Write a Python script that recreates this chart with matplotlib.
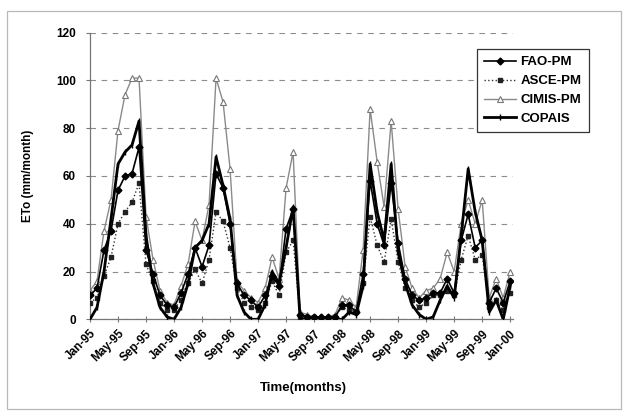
import numpy as np
import matplotlib
matplotlib.use("Agg")
import matplotlib.pyplot as plt
from matplotlib.patches import Rectangle

# ---- data (monthly ETo, mm/month, Jan-95 .. Jan-00) ----
fao_pm = [10, 13, 29, 37, 54, 60, 61, 72, 29, 19, 10, 6,
          5, 11, 19, 30, 22, 31, 61, 55, 40, 15, 10, 8,
          5, 10, 18, 14, 38, 46, 2, 1, 1, 1, 1, 1,
          6, 6, 3, 19, 58, 40, 31, 57, 32, 17, 10, 8,
          9, 11, 11, 17, 11, 33, 44, 30, 33, 7, 13, 7,
          16]
asce_pm = [7, 9, 18, 26, 40, 45, 49, 57, 23, 16, 7, 4,
           4, 8, 15, 21, 15, 25, 45, 41, 30, 13, 7, 5,
           4, 7, 16, 10, 28, 33, 1, 1, 1, 0, 0, 1,
           5, 4, 3, 15, 43, 31, 24, 42, 24, 13, 8, 5,
           7, 10, 10, 12, 10, 25, 35, 25, 27, 5, 8, 4,
           11]
cimis_pm = [12, 16, 37, 50, 79, 94, 101, 101, 43, 25, 12, 7,
            6, 14, 23, 41, 33, 48, 101, 91, 63, 16, 12, 9,
            7, 13, 26, 17, 55, 70, 3, 2, 1, 1, 1, 2,
            9, 8, 5, 29, 88, 66, 47, 83, 46, 22, 13, 9,
            12, 13, 17, 28, 20, 40, 50, 40, 50, 9, 17, 9,
            20]
copais = [0, 5, 20, 42, 65, 70, 73, 83, 35, 15, 5, 1,
          0, 5, 15, 30, 33, 40, 68, 56, 42, 10, 3, 0,
          0, 6, 20, 15, 30, 47, 0, 0, 0, 0, 0, 0,
          0, 3, 2, 14, 65, 45, 33, 65, 28, 15, 6, 2,
          0, 1, 8, 14, 9, 35, 63, 45, 33, 3, 8, 0,
          14]
tick_labels = ["Jan-95", "May-95", "Sep-95", "Jan-96", "May-96", "Sep-96",
               "Jan-97", "May-97", "Sep-97", "Jan-98", "May-98", "Sep-98",
               "Jan-99", "May-99", "Sep-99", "Jan-00"]
series_names = ["FAO-PM", "ASCE-PM", "CIMIS-PM", "COPAIS"]

plt.rcParams['font.family'] = ['Liberation Sans', 'DejaVu Sans']

W, H = 629, 411
fig = plt.figure(figsize=(W / 100, H / 100), dpi=100)
fig.patch.set_facecolor('white')

# outer chart border
fig.patches.append(Rectangle((7 / W, 2 / H), 614 / W, 398 / H,
                             transform=fig.transFigure, fill=False,
                             edgecolor='#b8b8b8', lw=0.9))

ax = fig.add_axes([90 / W, (H - 319.3) / H, (513 - 90) / W, (319.3 - 32.7) / H])

x = np.arange(len(fao_pm))

ax.plot(x, fao_pm, color='black', lw=1.2, marker='D', ms=3.5,
        mfc='black', mec='black', label=series_names[0], zorder=4)
ax.plot(x, asce_pm, color='#333333', lw=1.0, ls=':', marker='s', ms=3.4,
        mfc='#222222', mec='#222222', label=series_names[1], zorder=3)
ax.plot(x, cimis_pm, color='#8a8a8a', lw=1.0, marker='^', ms=4.3,
        mfc='white', mec='#777777', mew=0.8, label=series_names[2], zorder=2)
ax.plot(x, copais, color='black', lw=2.0, marker='|', ms=5,
        mec='black', label=series_names[3], zorder=5)

ax.set_xlim(0, 60.4)
ax.set_ylim(0, 120)
ax.set_yticks(np.arange(0, 121, 20))
ax.set_xticks(np.arange(0, 61, 4))
ax.set_xticklabels(tick_labels, rotation=45, ha='right', va='top',
                   rotation_mode='anchor', fontsize=8.5, fontweight='bold')
for lbl in ax.get_yticklabels():
    lbl.set_fontweight('bold')
    lbl.set_fontsize(8.5)

ax.grid(axis='y', color='#8c8c8c', ls=(0, (5, 5)), lw=0.8)
ax.set_axisbelow(True)

for s in ['top', 'right']:
    ax.spines[s].set_visible(False)
for s in ['left', 'bottom']:
    ax.spines[s].set_color('#777777')
    ax.spines[s].set_linewidth(0.9)
ax.tick_params(axis='y', direction='out', length=3, color='#777777', pad=7)
ax.tick_params(axis='x', direction='inout', length=4, color='#777777', pad=4)

ax.set_ylabel('ETo (mm/month)', fontsize=8.5, fontweight='bold', labelpad=16)
fig.text(303 / W, 1 - 388 / H, 'Time(months)', ha='center', va='center',
         fontsize=9.5, fontweight='bold')

leg = fig.legend(loc='upper left', bbox_to_anchor=(477 / W, 1 - 49 / H),
                 bbox_transform=fig.transFigure, frameon=True, fancybox=False,
                 edgecolor='#333333', framealpha=1, handlelength=2.4,
                 borderpad=0.55, labelspacing=0.5, handletextpad=0.35,
                 borderaxespad=0.0,
                 prop={'weight': 'bold', 'size': 9.5})
leg.get_frame().set_linewidth(0.9)

fig.savefig('out.png', dpi=100, facecolor='white')
